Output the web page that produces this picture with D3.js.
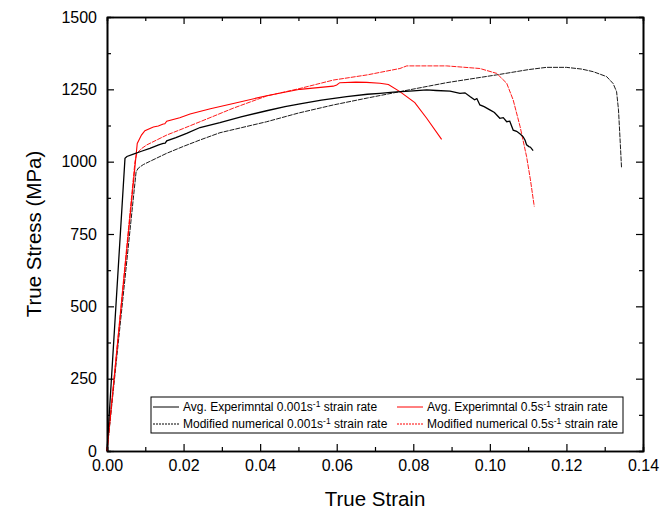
<!DOCTYPE html>
<html>
<head>
<meta charset="utf-8">
<script src="https://cdn.jsdelivr.net/npm/d3@7"></script>
<style>
  body { margin:0; background:#fff; overflow:hidden; }
  svg { display:block; }
  svg text { font-family: "Liberation Sans", Arial, sans-serif; }
</style>
</head>
<body>
<div id="chart"></div>
<script>
// [strain, stress MPa]
const expSlow = [[0,0],[0.0047,1012],[0.0052,1018],[0.0069,1026],[0.0090,1036],[0.0112,1046],[0.0135,1058],[0.0147,1063],
  [0.0152,1064],[0.0156,1072],[0.0180,1083],[0.0208,1098],[0.0243,1118],[0.0295,1135],[0.0350,1155],[0.0417,1176],
  [0.0465,1190],[0.0504,1200],[0.0560,1213],[0.0626,1225],[0.0680,1233],[0.0713,1236],[0.0748,1240],[0.0800,1245],
  [0.0835,1248],[0.0860,1246],[0.0896,1244],[0.0922,1236],[0.0935,1238],[0.0948,1225],[0.0960,1214],[0.0966,1218],
  [0.0974,1196],[0.0985,1190],[0.1000,1179],[0.1012,1170],[0.1026,1150],[0.1035,1152],[0.1044,1138],[0.1052,1140],
  [0.1061,1109],[0.1070,1105],[0.1080,1095],[0.1087,1086],[0.1092,1074],[0.1096,1058],[0.1102,1052],[0.1106,1050],[0.1113,1038]]
const numSlow = [[0,0],[0.0076,965],[0.0082,978],[0.0095,990],[0.0112,1001],[0.0156,1029],[0.0200,1053],[0.0243,1075],
  [0.0295,1100],[0.0417,1138],[0.0500,1168],[0.0591,1196],[0.0680,1220],[0.0765,1242],[0.0887,1273],[0.1018,1300],
  [0.1100,1318],[0.1148,1326],[0.1200,1326],[0.1240,1320],[0.1270,1311],[0.1305,1294],[0.1322,1270],[0.1331,1242],
  [0.1336,1179],[0.1340,1080],[0.1344,977]]
const expFast = [[0,0],[0.0079,1063],[0.0090,1092],[0.0099,1107],[0.0121,1120],[0.0134,1123],[0.0147,1130],[0.0151,1131],
  [0.0156,1140],[0.0190,1152],[0.0217,1165],[0.0270,1183],[0.0330,1201],[0.0417,1228],[0.0504,1250],[0.0591,1261],
  [0.0600,1265],[0.0608,1273],[0.0650,1275],[0.0678,1274],[0.0713,1271],[0.0735,1267],[0.0765,1242],[0.0804,1204],
  [0.0835,1150],[0.0874,1077]]
const numFast = [[0,0],[0.0073,1000],[0.0078,1029],[0.0090,1045],[0.0104,1058],[0.0130,1075],[0.0156,1092],[0.0200,1115],
  [0.0243,1138],[0.0330,1185],[0.0417,1227],[0.0504,1253],[0.0591,1282],[0.0680,1300],[0.0765,1322],[0.0783,1331],
  [0.0887,1331],[0.0974,1322],[0.1018,1305],[0.1044,1271],[0.1061,1213],[0.1079,1121],[0.1096,1017],[0.1106,937],[0.1116,845]]

const xTicks = [0,0.02,0.04,0.06,0.08,0.10,0.12,0.14]
const yTicks = [0,250,500,750,1000,1250,1500]
const legendNames = ["Avg. Experimntal 0.001s","Avg. Experimntal 0.5s","Modified numerical 0.001s","Modified numerical 0.5s"]

const width = 660, height = 514,
      margin = { top:17, left:107, right:17, bottom:63 },
      innerWidth = width - margin.left - margin.right,
      innerHeight = height - margin.top - margin.bottom

const xScale = d3.scaleLinear().domain([0,0.14]).range([0,innerWidth])
const yScale = d3.scaleLinear().domain([0,1500]).range([innerHeight,0])

const svg = d3.select("#chart").append("svg").attr("width",width).attr("height",height)
const g = svg.append("g").attr("transform",`translate(${margin.left},${margin.top})`)

const minorX = d3.range(0.01,0.14,0.02), minorY = d3.range(125,1500,250)

function styleAxis(a){
  a.attr("font-family",null)
  a.select(".domain").attr("stroke-width",1.6)
  a.selectAll(".tick line").attr("stroke-width",1.2)
  a.selectAll("text").attr("font-size",16).attr("fill","#000")
}
// no labels on mirror / minor axes
function bare(a){ styleAxis(a); a.selectAll("text").remove() }

// bottom / left with labels
g.append("g").attr("transform",`translate(0,${innerHeight})`)
  .call(d3.axisBottom(xScale).tickValues(xTicks).tickFormat(d3.format(".2f")).tickSize(-7).tickSizeOuter(0).tickPadding(9))
  .call(styleAxis)
g.append("g")
  .call(d3.axisLeft(yScale).tickValues(yTicks).tickFormat(d3.format("d")).tickSize(-7).tickSizeOuter(0).tickPadding(10))
  .call(styleAxis)
// mirrored top / right
g.append("g").call(d3.axisTop(xScale).tickValues(xTicks).tickSize(-7).tickSizeOuter(0)).call(bare)
g.append("g").attr("transform",`translate(${innerWidth},0)`)
  .call(d3.axisRight(yScale).tickValues(yTicks).tickSize(-7).tickSizeOuter(0)).call(bare)
// minor ticks
g.append("g").attr("transform",`translate(0,${innerHeight})`).call(d3.axisBottom(xScale).tickValues(minorX).tickSize(-4)).call(bare)
g.append("g").call(d3.axisTop(xScale).tickValues(minorX).tickSize(-4)).call(bare)
g.append("g").call(d3.axisLeft(yScale).tickValues(minorY).tickSize(-4)).call(bare)
g.append("g").attr("transform",`translate(${innerWidth},0)`).call(d3.axisRight(yScale).tickValues(minorY).tickSize(-4)).call(bare)

const line = d3.line().x(d=>xScale(d[0])).y(d=>yScale(d[1]))
const series = [
  { data:numSlow, color:"#000", dash:"5,1", w:0.9 },
  { data:numFast, color:"#ff0000", dash:"5,1", w:0.9 },
  { data:expFast, color:"#ff0000", dash:null, w:1.1 },
  { data:expSlow, color:"#000", dash:null, w:1.3 }
]
series.forEach(s=>{
  g.append("path").attr("d",line(s.data)).attr("fill","none")
    .attr("stroke",s.color).attr("stroke-width",s.w).attr("stroke-dasharray",s.dash)
})

// legend
const leg = svg.append("g").attr("transform","translate(151,397)")
leg.append("rect").attr("width",472).attr("height",36).attr("fill","#fff").attr("stroke","#000").attr("stroke-width",1)
const legItems = [
  { name:legendNames[0], color:"#000", dash:null, x:2, y:10 },
  { name:legendNames[1], color:"#ff0000", dash:null, x:246, y:10 },
  { name:legendNames[2], color:"#000", dash:"2,1", x:2, y:27 },
  { name:legendNames[3], color:"#ff0000", dash:"2,1", x:246, y:27 }
]
legItems.forEach(d=>{
  leg.append("line").attr("x1",d.x).attr("x2",d.x+26).attr("y1",d.y).attr("y2",d.y)
    .attr("stroke",d.color).attr("stroke-width",1).attr("stroke-dasharray",d.dash)
  let x0 = d.x+30
  const a = leg.append("text").attr("x",x0).attr("y",d.y+4).attr("font-size",12).attr("fill","#000").text(d.name)
  x0 += a.node().getComputedTextLength()
  const b = leg.append("text").attr("x",x0).attr("y",d.y-0.5).attr("font-size",8.5).attr("fill","#000").text("-1")
  x0 += b.node().getComputedTextLength()
  leg.append("text").attr("x",x0).attr("y",d.y+4).attr("font-size",12).attr("fill","#000").text(" strain rate")
    .style("white-space","pre")
})

// axis titles
svg.append("text").attr("x",margin.left+innerWidth/2).attr("y",506).attr("text-anchor","middle")
  .attr("font-size",20.5).text("True Strain")
svg.append("text").attr("transform",`translate(41,${margin.top+innerHeight/2}) rotate(-90)`)
  .attr("text-anchor","middle").attr("font-size",20.5).text("True Stress (MPa)")
</script>
</body>
</html>
